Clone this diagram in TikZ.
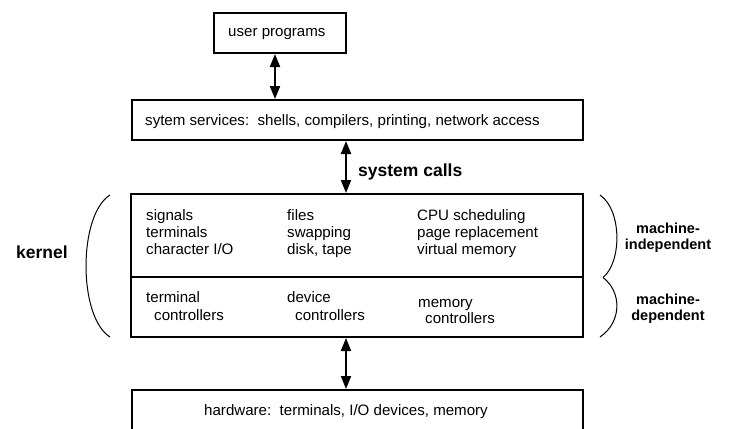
\documentclass[tikz,border=0pt]{standalone}
\usepackage{fontspec}
\setmainfont{Liberation Sans}
\usetikzlibrary{arrows.meta}

\tikzset{
  layer/.style={draw, line width=2pt, inner sep=0pt},
  txt/.style={anchor=base west, inner sep=0pt, font=\fontsize{15.1}{17}\selectfont},
  ctxt/.style={anchor=base, inner sep=0pt, font=\fontsize{15.1}{17}\selectfont},
  bigbold/.style={anchor=base west, inner sep=0pt, font=\fontsize{17.5}{20}\selectfont\bfseries},
  sidelabel/.style={anchor=base, inner sep=0pt, font=\fontsize{14.5}{16}\selectfont\bfseries},
  link/.style={line width=2pt, {Triangle[width=10pt,length=13pt]}-{Triangle[width=10pt,length=13pt]}},
  bracket/.style={line width=1pt}
}

\begin{document}
\begin{tikzpicture}[x=1pt, y=1pt]
\useasboundingbox (0,0) rectangle (730,-428);

% layer boxes
\node[layer, minimum width=132, minimum height=40] (user) at (280,-33) {};
\node[layer, minimum width=451, minimum height=40] (serv) at (357.5,-120) {};
\node[layer, minimum width=452, minimum height=83] (kind) at (357,-235.5) {};
\node[layer, minimum width=452, minimum height=60] (kdep) at (357,-307) {};
\node[layer, minimum width=451, minimum height=60] (hw) at (357.5,-420) {};

% box texts
\node[txt] (tuser) at (228,-37) {user programs};
\node[txt] (tserv) at (145,-125) {sytem services:\ \ shells, compilers, printing, network access};
\node[ctxt] (thw) at (346,-415) {hardware:\ \ terminals, I/O devices, memory};

% machine-independent part of the kernel
\node[txt] (a1) at (146,-220) {signals};
\node[txt] (a2) at (146,-237) {terminals};
\node[txt] (a3) at (146,-254) {character I/O};
\node[txt] (b1) at (287,-220) {files};
\node[txt] (b2) at (287,-237) {swapping};
\node[txt] (b3) at (287,-254) {disk, tape};
\node[txt] (c1) at (417,-220) {CPU scheduling};
\node[txt] (c2) at (417,-237) {page replacement};
\node[txt] (c3) at (417,-254) {virtual memory};

% machine-dependent part of the kernel
\node[txt] (d1) at (146,-302) {terminal};
\node[txt] (d2) at (154,-320) {controllers};
\node[txt] (e1) at (287,-302) {device};
\node[txt] (e2) at (295,-320) {controllers};
\node[txt] (f1) at (418,-307) {memory};
\node[txt] (f2) at (425,-323) {controllers};

% interfaces between layers
\coordinate (p1) at ([xshift=-5pt]user.south);
\draw[link] (p1) -- (p1 |- serv.north);
\coordinate (p2) at ([xshift=-11.5pt]serv.south);
\draw[link] (p2) -- (p2 |- kind.north);
\coordinate (p3) at ([xshift=-11pt]kdep.south);
\draw[link] (p3) -- (p3 |- hw.north);
\node[bigbold] (calls) at (358,-176) {system calls};

% kernel bracket
\coordinate (lt) at (110,-195);
\coordinate (lb) at (110,-337);
\draw[bracket] (lt) .. controls (78,-215) and (78,-317) .. (lb);
\node[bigbold] (kern) at (16,-258) {kernel};

% right-hand brackets
\coordinate (rt) at (600,-195);
\coordinate (rm) at (603,-277.5);
\coordinate (rb) at (600,-337);
\draw[bracket] (rt) .. controls (622,-210) and (622,-262) .. (rm);
\draw[bracket] (rm) .. controls (622,-292) and (622,-322) .. (rb);
\node[sidelabel] (mi1) at (668,-233) {machine-};
\node[sidelabel] (mi2) at (668,-249) {independent};
\node[sidelabel] (md1) at (668,-304) {machine-};
\node[sidelabel] (md2) at (668,-320) {dependent};
\end{tikzpicture}
\end{document}
